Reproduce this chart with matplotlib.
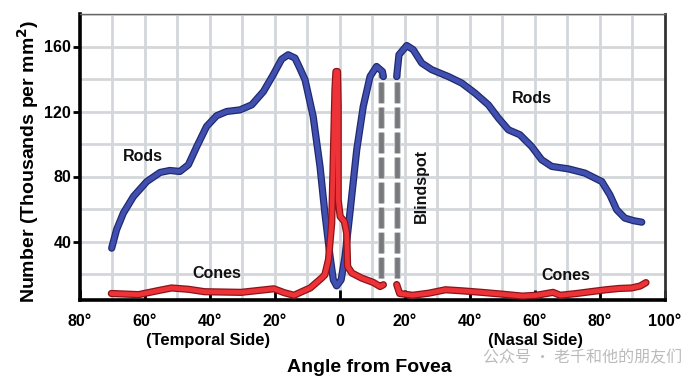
import matplotlib
matplotlib.use("Agg")
import matplotlib.pyplot as plt
import matplotlib.patheffects as pe

plt.rcParams['font.family'] = ['Liberation Sans', 'DejaVu Sans']

# rods, temporal side up to blindspot
rods_l_x = [-70.1, -68.6, -66.5, -63.4, -59.3, -55.2, -52.2, -49.1, -46.5, -43.9, -40.9, -37.8,
            -34.7, -30.6, -27, -23.4, -20.4, -17.8, -15.8, -13.7, -12.4, -10.6, -8.1, -6, -4.5,
            -2.9, -1.9, -0.9, 0.5, 1.7, 3.2, 5.3, 7.3, 9.4, 11.4, 13.2, 13.5]
rods_l_y = [35.9, 47.2, 57.5, 67.7, 76.9, 82.5, 83.7, 83.1, 87.2, 98.5, 110.8, 117.4,
            120, 121, 124.1, 132.3, 142.6, 152.2, 154.9, 152.9, 147.5, 139.5, 116.9, 86.2, 57.5,
            30.8, 16.4, 12.7, 16.4, 30.8, 57.5, 96.4, 123, 141.5, 147.7, 144.6, 141.5]
# rods, nasal side after blindspot
rods_r_x = [17.6, 18.3, 20.7, 22.7, 25.3, 28.4, 33.5, 37.6, 41.7, 45.8, 48.9, 52, 55.5, 59.1,
            62.2, 65.3, 70.4, 75.5, 80.7, 83.2, 85.3, 87.8, 90.5, 93]
rods_r_y = [141.5, 154.9, 160.6, 158, 149.8, 145.7, 141.5, 137.5, 131.3, 124.1, 115.9, 108.7,
            105.7, 98.5, 90.3, 86.2, 84.7, 82.1, 76.9, 68.7, 59.5, 54.4, 52.8, 51.9]

cones_l_x = [-70.2, -61.8, -56.5, -51.7, -46.5, -41.5, -30.3, -20.2, -17, -14, -11.5, -9, -5.5,
             -4.5, -3.4, -2.4, -1.9, -1.4, -1.1, -0.6, -0.4, -0.4, 0.2, 1.5, 2.2, 2.5, 3.8, 6.8,
             10.4, 12.5, 13.5]
cones_l_y = [8, 7.3, 9.5, 11.4, 10.6, 9.1, 8.7, 10.9, 8.5, 6.9, 9.2, 11.4, 17.5,
             19.5, 28.7, 51.3, 92.3, 133.4, 144.6, 144.6, 123, 65.7, 55.4, 52.3, 45.2, 24.6,
             20.6, 17.5, 14.8, 12.3, 13.4]
cones_r_x = [17.6, 18.5, 22.5, 27.5, 32.6, 38, 43.8, 50, 56.2, 60.6, 65.7, 67.9, 73, 78, 82, 86,
             89.8, 92.5, 94.3]
cones_r_y = [13.5, 8, 6.9, 8.2, 10.3, 9.6, 8.7, 7.6, 6.4, 6.9, 8.7, 6.9, 8, 9.3, 10.3, 11.1,
             11.4, 12.6, 14.7]

blindspot_x = [12.8, 17.8]
blindspot_y = [17.6, 143.8]

xticks = [-80, -60, -40, -20, 0, 20, 40, 60, 80, 100]
xticklabels = ['80°', '60°', '40°', '20°', '0', '20°', '40°', '60°', '80°', '100°']
yticks = [40, 80, 120, 160]

fig = plt.figure(figsize=(6.92, 3.88), dpi=100)
ax = fig.add_axes([79.5 / 692, 88 / 388, 585 / 692, 286 / 388])
ax.set_xlim(-80, 100)
ax.set_ylim(4, 180)

# grid every 10 deg / 20 units
for gx in range(-70, 100, 10):
    ax.axvline(gx, color='#d3d7db', lw=2, zorder=0)
for gy in range(20, 181, 20):
    ax.axhline(gy, color='#d3d7db', lw=2, zorder=0)

blue_fx = [pe.Stroke(linewidth=5.2, foreground='#1f2a6e'), pe.Normal()]
red_fx = [pe.Stroke(linewidth=5.2, foreground='#8a1418'), pe.Normal()]
for xs, ys in [(rods_l_x, rods_l_y), (rods_r_x, rods_r_y)]:
    ax.plot(xs, ys, color='#4150b0', lw=3.4, solid_capstyle='round', solid_joinstyle='round',
            path_effects=blue_fx, zorder=3)
for xs, ys in [(cones_l_x, cones_l_y), (cones_r_x, cones_r_y)]:
    ax.plot(xs, ys, color='#ee3338', lw=3.4, solid_capstyle='round', solid_joinstyle='round',
            path_effects=red_fx, zorder=4)

for bx in blindspot_x:
    ax.plot([bx, bx], blindspot_y, color='#77797c', lw=3.4, dashes=(4.4, 0.9),
            path_effects=[pe.Stroke(linewidth=5, foreground='#c9cbcd'), pe.Normal()], zorder=2)

tkw = dict(fontsize=11.5, fontweight='bold', color='#111111', zorder=5)
ax.text(-60.4, 92.3, 'Rods', ha='center', va='center', **tkw)
ax.text(59.1, 128.2, 'Rods', ha='center', va='center', **tkw)
ax.text(-37.7, 20.4, 'Cones', ha='center', va='center', **tkw)
ax.text(69.6, 19, 'Cones', ha='center', va='center', **tkw)
ax.text(25.3, 74, 'Blindspot', ha='center', va='center', rotation=90, **tkw)

ax.set_xticks(xticks)
ax.set_xticklabels(xticklabels, fontsize=11.5, fontweight='bold')
ax.set_yticks(yticks)
ax.set_yticklabels([str(v) for v in yticks], fontsize=11.5, fontweight='bold')
ax.tick_params(axis='x', direction='in', length=7, width=2, pad=10)
ax.tick_params(axis='y', direction='out', length=5, width=2, pad=1)

for s in ['left', 'bottom']:
    ax.spines[s].set_linewidth(2.6)
    ax.spines[s].set_color('black')
ax.spines['right'].set_linewidth(2)
ax.spines['right'].set_color('#333333')
ax.spines['top'].set_linewidth(1)
ax.spines['top'].set_color('#666666')

fig.text(28 / 692, 1 - 161 / 388, 'Number (Thousands per mm$^\\mathbf{2}$)', rotation=90,
         ha='center', va='center', fontsize=14, fontweight='bold')
fig.text(208 / 692, 1 - 341 / 388, '(Temporal Side)', ha='center', va='center',
         fontsize=12, fontweight='bold')
fig.text(535 / 692, 1 - 341 / 388, '(Nasal Side)', ha='center', va='center',
         fontsize=12, fontweight='bold')
fig.text(369 / 692, 1 - 368 / 388, 'Angle from Fovea', ha='center', va='center',
         fontsize=14, fontweight='bold')
fig.text(583 / 692, 1 - 358 / 388, '公众号 · 老千和他的朋友们', ha='center', va='center',
         fontsize=11.5, color='#b4b4b4', family=['Noto Sans CJK SC', 'DejaVu Sans'], alpha=0.9)

fig.savefig('out.png', dpi=100)
